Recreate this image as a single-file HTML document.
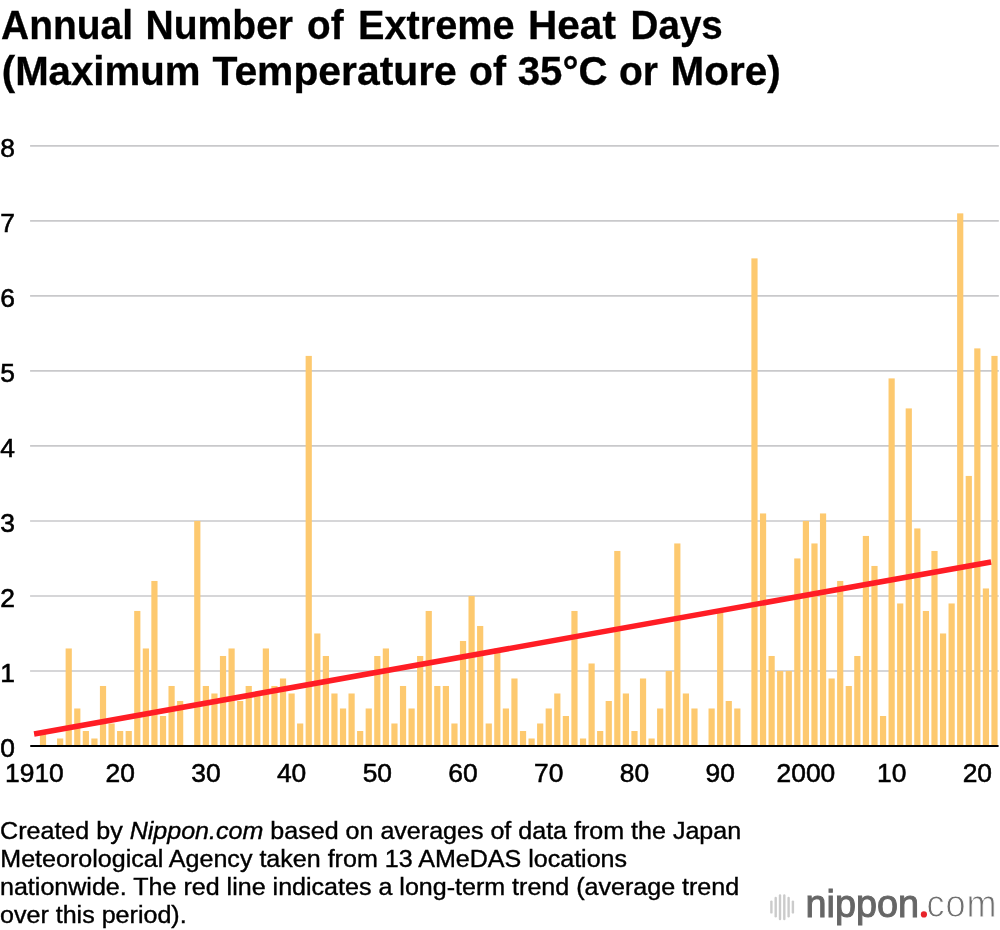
<!DOCTYPE html>
<html lang="en"><head><meta charset="utf-8"><title>Annual Number of Extreme Heat Days</title>
<style>
html,body{margin:0;padding:0;background:#fff;}
body{width:1000px;height:930px;position:relative;overflow:hidden;font-family:"Liberation Sans",sans-serif;color:#000;}
svg{position:absolute;left:0;top:0;}
svg text{font-family:"Liberation Sans",sans-serif;}
</style></head><body>
<svg width="1000" height="930" viewBox="0 0 1000 930">

<g stroke="#c9c9cb" stroke-width="1.6">
<line x1="30.1" y1="670.98" x2="998.8" y2="670.98"/>
<line x1="30.1" y1="595.96" x2="998.8" y2="595.96"/>
<line x1="30.1" y1="520.94" x2="998.8" y2="520.94"/>
<line x1="30.1" y1="445.92" x2="998.8" y2="445.92"/>
<line x1="30.1" y1="370.90" x2="998.8" y2="370.90"/>
<line x1="30.1" y1="295.88" x2="998.8" y2="295.88"/>
<line x1="30.1" y1="220.86" x2="998.8" y2="220.86"/>
<line x1="30.1" y1="145.84" x2="998.8" y2="145.84"/>
</g>
<g fill="#fdc96f">
<rect x="39.90" y="731.00" width="6.2" height="15.00"/>
<rect x="57.05" y="738.50" width="6.2" height="7.50"/>
<rect x="65.62" y="648.47" width="6.2" height="97.53"/>
<rect x="74.19" y="708.49" width="6.2" height="37.51"/>
<rect x="82.76" y="731.00" width="6.2" height="15.00"/>
<rect x="91.33" y="738.50" width="6.2" height="7.50"/>
<rect x="99.91" y="685.98" width="6.2" height="60.02"/>
<rect x="108.48" y="723.49" width="6.2" height="22.51"/>
<rect x="117.05" y="731.00" width="6.2" height="15.00"/>
<rect x="125.62" y="731.00" width="6.2" height="15.00"/>
<rect x="134.19" y="610.96" width="6.2" height="135.04"/>
<rect x="142.77" y="648.47" width="6.2" height="97.53"/>
<rect x="151.34" y="580.96" width="6.2" height="165.04"/>
<rect x="159.91" y="715.99" width="6.2" height="30.01"/>
<rect x="168.48" y="685.98" width="6.2" height="60.02"/>
<rect x="177.05" y="700.99" width="6.2" height="45.01"/>
<rect x="194.20" y="520.94" width="6.2" height="225.06"/>
<rect x="202.77" y="685.98" width="6.2" height="60.02"/>
<rect x="211.34" y="693.49" width="6.2" height="52.51"/>
<rect x="219.91" y="655.98" width="6.2" height="90.02"/>
<rect x="228.49" y="648.47" width="6.2" height="97.53"/>
<rect x="237.06" y="700.99" width="6.2" height="45.01"/>
<rect x="245.63" y="685.98" width="6.2" height="60.02"/>
<rect x="254.20" y="693.49" width="6.2" height="52.51"/>
<rect x="262.77" y="648.47" width="6.2" height="97.53"/>
<rect x="271.35" y="685.98" width="6.2" height="60.02"/>
<rect x="279.92" y="678.48" width="6.2" height="67.52"/>
<rect x="288.49" y="693.49" width="6.2" height="52.51"/>
<rect x="297.06" y="723.49" width="6.2" height="22.51"/>
<rect x="305.63" y="355.90" width="6.2" height="390.10"/>
<rect x="314.21" y="633.47" width="6.2" height="112.53"/>
<rect x="322.78" y="655.98" width="6.2" height="90.02"/>
<rect x="331.35" y="693.49" width="6.2" height="52.51"/>
<rect x="339.92" y="708.49" width="6.2" height="37.51"/>
<rect x="348.49" y="693.49" width="6.2" height="52.51"/>
<rect x="357.07" y="731.00" width="6.2" height="15.00"/>
<rect x="365.64" y="708.49" width="6.2" height="37.51"/>
<rect x="374.21" y="655.98" width="6.2" height="90.02"/>
<rect x="382.78" y="648.47" width="6.2" height="97.53"/>
<rect x="391.35" y="723.49" width="6.2" height="22.51"/>
<rect x="399.93" y="685.98" width="6.2" height="60.02"/>
<rect x="408.50" y="708.49" width="6.2" height="37.51"/>
<rect x="417.07" y="655.98" width="6.2" height="90.02"/>
<rect x="425.64" y="610.96" width="6.2" height="135.04"/>
<rect x="434.21" y="685.98" width="6.2" height="60.02"/>
<rect x="442.79" y="685.98" width="6.2" height="60.02"/>
<rect x="451.36" y="723.49" width="6.2" height="22.51"/>
<rect x="459.93" y="640.97" width="6.2" height="105.03"/>
<rect x="468.50" y="595.96" width="6.2" height="150.04"/>
<rect x="477.07" y="625.97" width="6.2" height="120.03"/>
<rect x="485.65" y="723.49" width="6.2" height="22.51"/>
<rect x="494.22" y="648.47" width="6.2" height="97.53"/>
<rect x="502.79" y="708.49" width="6.2" height="37.51"/>
<rect x="511.36" y="678.48" width="6.2" height="67.52"/>
<rect x="519.93" y="731.00" width="6.2" height="15.00"/>
<rect x="528.51" y="738.50" width="6.2" height="7.50"/>
<rect x="537.08" y="723.49" width="6.2" height="22.51"/>
<rect x="545.65" y="708.49" width="6.2" height="37.51"/>
<rect x="554.22" y="693.49" width="6.2" height="52.51"/>
<rect x="562.79" y="715.99" width="6.2" height="30.01"/>
<rect x="571.37" y="610.96" width="6.2" height="135.04"/>
<rect x="579.94" y="738.50" width="6.2" height="7.50"/>
<rect x="588.51" y="663.48" width="6.2" height="82.52"/>
<rect x="597.08" y="731.00" width="6.2" height="15.00"/>
<rect x="605.65" y="700.99" width="6.2" height="45.01"/>
<rect x="614.23" y="550.95" width="6.2" height="195.05"/>
<rect x="622.80" y="693.49" width="6.2" height="52.51"/>
<rect x="631.37" y="731.00" width="6.2" height="15.00"/>
<rect x="639.94" y="678.48" width="6.2" height="67.52"/>
<rect x="648.51" y="738.50" width="6.2" height="7.50"/>
<rect x="657.09" y="708.49" width="6.2" height="37.51"/>
<rect x="665.66" y="670.98" width="6.2" height="75.02"/>
<rect x="674.23" y="543.45" width="6.2" height="202.55"/>
<rect x="682.80" y="693.49" width="6.2" height="52.51"/>
<rect x="691.37" y="708.49" width="6.2" height="37.51"/>
<rect x="708.52" y="708.49" width="6.2" height="37.51"/>
<rect x="717.09" y="610.96" width="6.2" height="135.04"/>
<rect x="725.66" y="700.99" width="6.2" height="45.01"/>
<rect x="734.23" y="708.49" width="6.2" height="37.51"/>
<rect x="751.38" y="258.37" width="6.2" height="487.63"/>
<rect x="759.95" y="513.44" width="6.2" height="232.56"/>
<rect x="768.52" y="655.98" width="6.2" height="90.02"/>
<rect x="777.09" y="670.98" width="6.2" height="75.02"/>
<rect x="785.67" y="670.98" width="6.2" height="75.02"/>
<rect x="794.24" y="558.45" width="6.2" height="187.55"/>
<rect x="802.81" y="520.94" width="6.2" height="225.06"/>
<rect x="811.38" y="543.45" width="6.2" height="202.55"/>
<rect x="819.95" y="513.44" width="6.2" height="232.56"/>
<rect x="828.53" y="678.48" width="6.2" height="67.52"/>
<rect x="837.10" y="580.96" width="6.2" height="165.04"/>
<rect x="845.67" y="685.98" width="6.2" height="60.02"/>
<rect x="854.24" y="655.98" width="6.2" height="90.02"/>
<rect x="862.81" y="535.94" width="6.2" height="210.06"/>
<rect x="871.39" y="565.95" width="6.2" height="180.05"/>
<rect x="879.96" y="715.99" width="6.2" height="30.01"/>
<rect x="888.53" y="378.40" width="6.2" height="367.60"/>
<rect x="897.10" y="603.46" width="6.2" height="142.54"/>
<rect x="905.67" y="408.41" width="6.2" height="337.59"/>
<rect x="914.25" y="528.44" width="6.2" height="217.56"/>
<rect x="922.82" y="610.96" width="6.2" height="135.04"/>
<rect x="931.39" y="550.95" width="6.2" height="195.05"/>
<rect x="939.96" y="633.47" width="6.2" height="112.53"/>
<rect x="948.53" y="603.46" width="6.2" height="142.54"/>
<rect x="957.11" y="213.36" width="6.2" height="532.64"/>
<rect x="965.68" y="475.93" width="6.2" height="270.07"/>
<rect x="974.25" y="348.39" width="6.2" height="397.61"/>
<rect x="982.82" y="588.46" width="6.2" height="157.54"/>
<rect x="991.39" y="355.90" width="6.2" height="390.10"/>
</g>
<line x1="31" y1="746.00" x2="997.8" y2="746.00" stroke="#000" stroke-width="2" stroke-linecap="round"/>
<line x1="34.1" y1="734.0" x2="991.1" y2="561.9" stroke="#ff1d25" stroke-width="5.6"/>
<g font-size="26.4" fill="#000" stroke="#000" stroke-width="0.6">
<text transform="translate(0.3,756.80) scale(1.0,1)">0</text>
<text transform="translate(0.3,681.78) scale(1.0,1)">1</text>
<text transform="translate(0.3,606.76) scale(1.0,1)">2</text>
<text transform="translate(0.3,531.74) scale(1.0,1)">3</text>
<text transform="translate(0.3,456.72) scale(1.0,1)">4</text>
<text transform="translate(0.3,381.70) scale(1.0,1)">5</text>
<text transform="translate(0.3,306.68) scale(1.0,1)">6</text>
<text transform="translate(0.3,231.66) scale(1.0,1)">7</text>
<text transform="translate(0.3,156.64) scale(1.0,1)">8</text>
</g>
<g font-size="26.4" fill="#000" stroke="#000" stroke-width="0.55" text-anchor="middle">
<text transform="translate(34.43,782) scale(1.0,1)">1910</text>
<text transform="translate(120.15,782) scale(1.0,1)">20</text>
<text transform="translate(205.87,782) scale(1.0,1)">30</text>
<text transform="translate(291.59,782) scale(1.0,1)">40</text>
<text transform="translate(377.31,782) scale(1.0,1)">50</text>
<text transform="translate(463.03,782) scale(1.0,1)">60</text>
<text transform="translate(548.75,782) scale(1.0,1)">70</text>
<text transform="translate(634.47,782) scale(1.0,1)">80</text>
<text transform="translate(720.19,782) scale(1.0,1)">90</text>
<text transform="translate(805.91,782) scale(1.0,1)">2000</text>
<text transform="translate(891.63,782) scale(1.0,1)">10</text>
<text transform="translate(977.35,782) scale(1.0,1)">20</text>
</g>
<g stroke="#cbcbcb" stroke-width="2.4" stroke-linecap="round" fill="none">
<line x1="771.4" y1="901.6" x2="771.4" y2="912.4"/>
<line x1="775.7" y1="898" x2="775.7" y2="916.3"/>
<line x1="780" y1="895.4" x2="780" y2="919"/>
<line x1="784.3" y1="895.4" x2="784.3" y2="919"/>
<line x1="788.6" y1="898" x2="788.6" y2="916.3"/>
<line x1="792.9" y1="901.6" x2="792.9" y2="912.4"/>
</g>
<text x="805.5" y="916.6" font-size="38" fill="#666" stroke="#666" stroke-width="1.0" textLength="113.5" lengthAdjust="spacingAndGlyphs">nippon</text>
<circle cx="923.9" cy="914.4" r="3.1" fill="#e8242b"/>
<text transform="translate(926.4,916.6) scale(0.95,1)" font-size="38" letter-spacing="1" fill="#707070" stroke="#fff" stroke-width="1.0">com</text>

<g font-size="40" font-weight="bold" fill="#000" stroke="#000" stroke-width="0.3">
<text transform="translate(1.03,39.0) scale(0.9735,1)">Annual</text> <text transform="translate(145.55,39.0) scale(0.9765,1)">Number</text> <text transform="translate(307.03,39.0) scale(0.9662,1)">of</text> <text transform="translate(358.02,39.0) scale(0.9919,1)">Extreme</text> <text transform="translate(527.97,39.0) scale(1.0147,1)">Heat</text> <text transform="translate(630.57,39.0) scale(0.9647,1)">Days</text>
<text transform="translate(1.74,85.0) scale(1.0052,1)">(Maximum</text> <text transform="translate(212.5,85.0) scale(1.021,1)">Temperature</text> <text transform="translate(469.02,85.0) scale(0.9797,1)">of</text> <text transform="translate(517.74,85.0) scale(1.0057,1)">35°C</text> <text transform="translate(619.03,85.0) scale(0.9744,1)">or</text> <text transform="translate(670.48,85.0) scale(1.0119,1)">More)</text>
</g>
<g font-size="24.8" fill="#000" stroke="#000" stroke-width="0.4">
<text transform="translate(0.1,839.1) scale(1.011,1)">Created by <tspan font-style="italic">Nippon.com</tspan> based on averages of data from the Japan</text>
<text transform="translate(0.3,866.9) scale(1.011,1)">Meteorological Agency taken from 13 AMeDAS locations</text>
<text transform="translate(0.0,894.75) scale(1.011,1)">nationwide. The red line indicates a long-term trend (average trend</text>
<text transform="translate(0.0,922.6) scale(1.011,1)">over this period).</text>
</g>
</svg>
</body></html>
